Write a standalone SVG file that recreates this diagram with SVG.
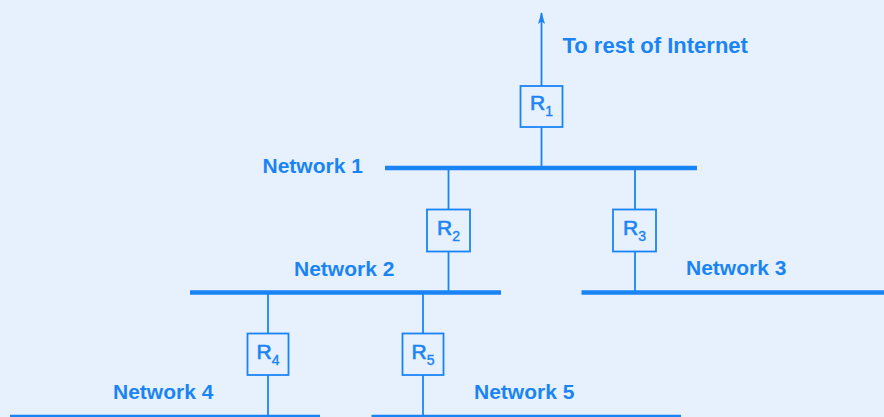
<svg xmlns="http://www.w3.org/2000/svg" width="884" height="417" viewBox="0 0 884 417">
<defs>
<style>
.net{stroke:#1B84F5;stroke-width:4.5;fill:none}
.link{stroke:#1B84F5;stroke-width:1.8;fill:none}
.box{stroke:#1B84F5;stroke-width:1.8;fill:#E7F1FD}
.lbl{font-family:"Liberation Sans",Arial,sans-serif;font-weight:bold;font-size:21px;fill:#1B84F5}
.r{font-family:"Liberation Sans",Arial,sans-serif;font-size:21px;fill:#1B84F5;stroke:#1B84F5;stroke-width:0.6;text-anchor:middle}
.sub{font-size:14px;stroke-width:0.4}
</style>
<marker id="arr" viewBox="0 0 12 7" refX="11" refY="3.5" markerWidth="12" markerHeight="7" markerUnits="userSpaceOnUse" orient="auto">
<path d="M0,0 L12,3.5 L0,7 L2.5,3.5 Z" fill="#1B84F5"/>
</marker>
</defs>
<rect width="884" height="417" fill="#E7F1FD"/>
<g id="connectors">
<line class="link" x1="541.5" y1="168" x2="541.5" y2="13" marker-end="url(#arr)"/>
<line class="link" x1="448.5" y1="168" x2="448.5" y2="292"/>
<line class="link" x1="635" y1="168" x2="635" y2="292"/>
<line class="link" x1="268" y1="292" x2="268" y2="417"/>
<line class="link" x1="423" y1="292" x2="423" y2="417"/>
</g>
<g id="network1"><line class="net" x1="385" y1="168" x2="697" y2="168"/><text class="lbl" x="262.5" y="173">Network 1</text></g>
<g id="network2"><line class="net" x1="190" y1="292.5" x2="501" y2="292.5"/><text class="lbl" x="294" y="276">Network 2</text></g>
<g id="network3"><line class="net" x1="581.5" y1="292.5" x2="884" y2="292.5"/><text class="lbl" x="686" y="275">Network 3</text></g>
<g id="network4"><line class="net" x1="10" y1="417" x2="320" y2="417"/><text class="lbl" x="113" y="399">Network 4</text></g>
<g id="network5"><line class="net" x1="371.5" y1="417" x2="681" y2="417"/><text class="lbl" x="474" y="399">Network 5</text></g>
<g id="internet"><text class="lbl" x="562.5" y="53" style="font-size:22px">To rest of Internet</text></g>
<g id="R1"><rect class="box" x="520.5" y="86" width="42" height="41"/><text class="r" x="541.5" y="110">R<tspan class="sub" dy="6">1</tspan></text></g>
<g id="R2"><rect class="box" x="427" y="209.5" width="43" height="42"/><text class="r" x="448.5" y="235">R<tspan class="sub" dy="6">2</tspan></text></g>
<g id="R3"><rect class="box" x="613" y="209.5" width="43" height="42"/><text class="r" x="634.5" y="235">R<tspan class="sub" dy="6">3</tspan></text></g>
<g id="R4"><rect class="box" x="247.5" y="333.5" width="41" height="41.5"/><text class="r" x="268" y="359">R<tspan class="sub" dy="6">4</tspan></text></g>
<g id="R5"><rect class="box" x="402.5" y="333.5" width="41" height="41.5"/><text class="r" x="423" y="359">R<tspan class="sub" dy="6">5</tspan></text></g>
</svg>
